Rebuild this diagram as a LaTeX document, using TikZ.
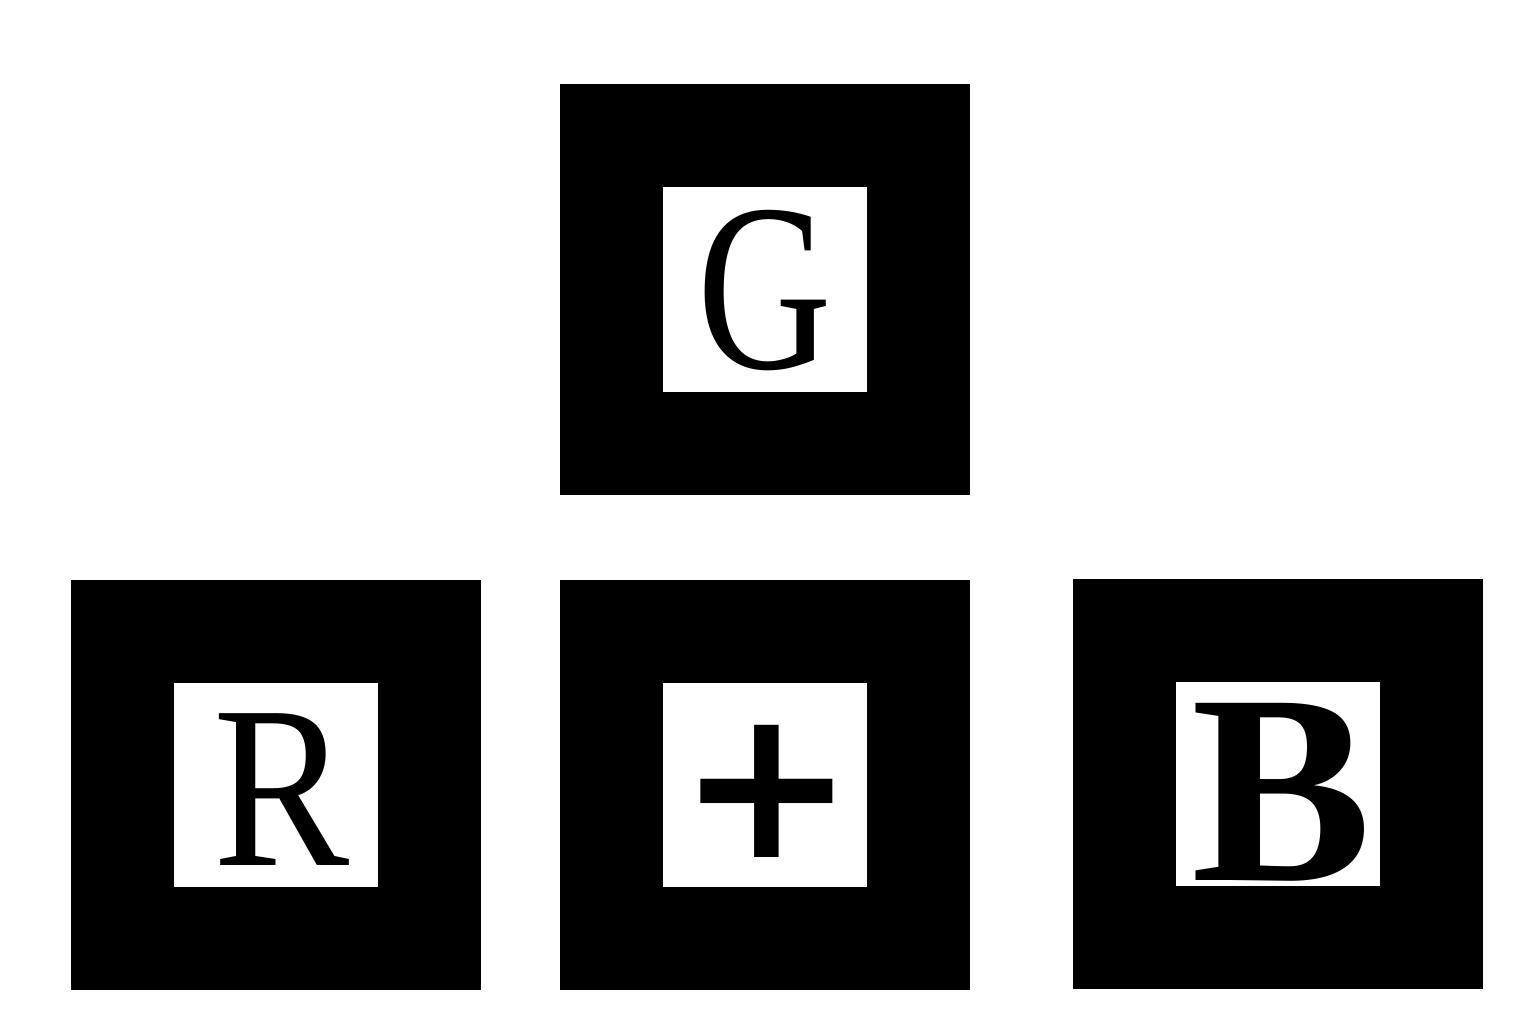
\documentclass[tikz,border=0pt]{standalone}
\usepackage{fontspec}
\setmainfont{LiberationSerif}[Extension=.ttf, UprightFont=*-Regular, BoldFont=*-Bold]
\newfontfamily\plusfont{DejaVu Sans}
\usepackage{tikz}
\usetikzlibrary{calc}

\tikzset{
    tile/.style={fill=black, draw=none, inner sep=0pt, outer sep=0pt, minimum size=4.1cm},
    pane/.style={fill=white, draw=none, inner sep=0pt, outer sep=0pt, minimum size=2.04cm},
    glyph/.style={inner sep=0pt, outer sep=0pt, anchor=base}
}

\begin{document}
\begin{tikzpicture}

    % 1. Fix the page to the reference proportions
    \useasboundingbox (0,0) rectangle (15.36,10.24);

    % 2. Centres of the four tiles
    \coordinate (Gc) at (7.65, 7.345);
    \coordinate (Rc) at (2.76, 2.39);
    \coordinate (Pc) at (7.65, 2.39);
    \coordinate (Bc) at (12.78, 2.40);

    % 3. Black tiles with their white windows
    \node[tile] (Gtile) at (Gc) {};
    \node[pane] (Gpane) at (Gc) {};
    \node[tile] (Rtile) at (Rc) {};
    \node[pane] (Rpane) at (Rc) {};
    \node[tile] (Ptile) at (Pc) {};
    \node[pane] (Ppane) at (Pc) {};
    \node[tile] (Btile) at (Bc) {};
    \node[pane] (Bpane) at (Bc) {};

    % 4. The letters
    \node[glyph, xscale=0.78] (G) at (7.65, 6.56) {\fontsize{68}{70}\selectfont G};
    \node[glyph, xscale=0.88] (R) at (2.815, 1.59) {\fontsize{66}{70}\selectfont R};
    \node[glyph] (B) at (12.815, 1.44) {\fontsize{77}{80}\selectfont\bfseries B};
    \node[inner sep=0pt, anchor=center] (plus) at (7.665, 2.33) {\plusfont\bfseries\fontsize{60}{64}\selectfont +};

\end{tikzpicture}
\end{document}
